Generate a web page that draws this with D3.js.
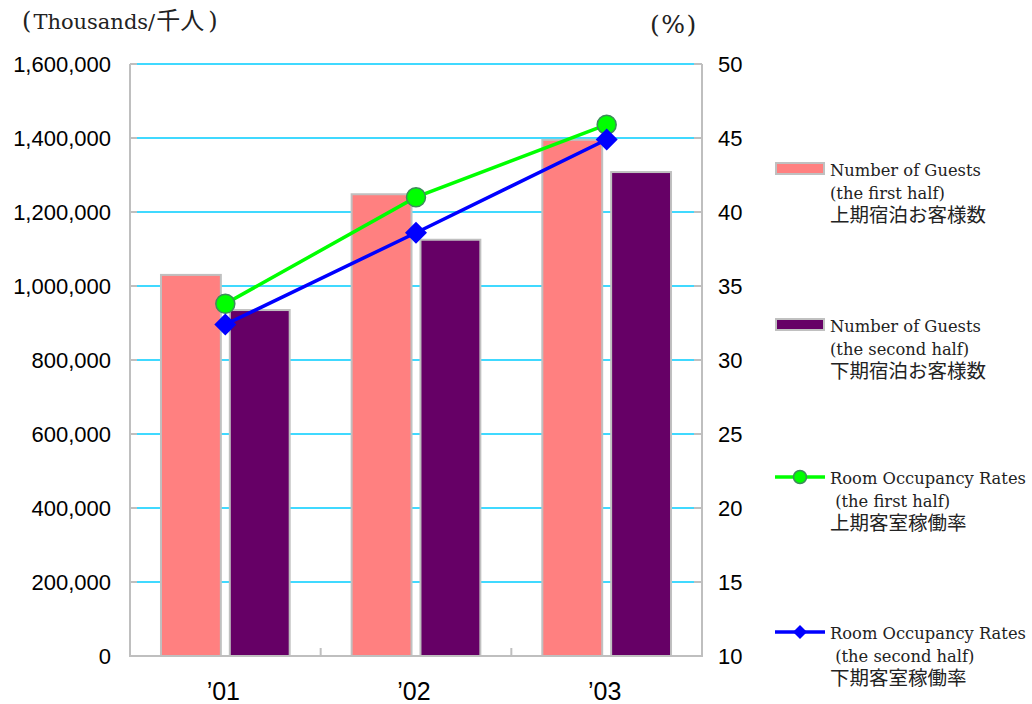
<!DOCTYPE html>
<html>
<head>
<meta charset="utf-8">
<script src="https://cdn.jsdelivr.net/npm/d3@7/dist/d3.min.js"></script>
<style>
  html, body { margin: 0; padding: 0; background: #fff; }
  svg { display: block; }
</style>
</head>
<body>
<svg id="chart" width="1032" height="704"></svg>
<script>
// ---- data ----
const categories = ["’01", "’02", "’03"];
const guestsFirstHalf = [1030000, 1248000, 1395000];
const guestsSecondHalf = [935000, 1125000, 1308000];
const occupancyFirstHalf = [33.8, 41.0, 45.9];
const occupancySecondHalf = [32.4, 38.6, 44.9];
const leftTicks = [0, 200000, 400000, 600000, 800000, 1000000, 1200000, 1400000, 1600000];
const rightTicks = [10, 15, 20, 25, 30, 35, 40, 45, 50];
const leftUnitParts = ["(", "Thousands/", "千人", ")"];
const rightUnit = "(%)";
const legendLabels = [
  ["Number of Guests", "(the first half)", "上期宿泊お客様数"],
  ["Number of Guests", "(the second half)", "下期宿泊お客様数"],
  ["Room Occupancy Rates", " (the first half)", "上期客室稼働率"],
  ["Room Occupancy Rates", " (the second half)", "下期客室稼働率"]
];

// ---- layout ----
const svg = d3.select("#chart");
const plot = { left: 130, right: 702, top: 64, bottom: 656 };
const sansFont = "'Liberation Sans', Arial, sans-serif";
const serifFont = "'DejaVu Serif', 'Liberation Serif', 'Noto Sans CJK JP', serif";
const cjkFont = "'Noto Sans CJK JP', sans-serif";

const x0 = d3.scaleBand().domain(categories).range([plot.left, plot.right]);
const x1 = d3.scaleBand().domain([0, 1]).range([0, x0.bandwidth()])
  .paddingInner(0.13).paddingOuter(0.45);
const yL = d3.scaleLinear().domain([0, 1600000]).range([plot.bottom, plot.top]);
const yR = d3.scaleLinear().domain([10, 50]).range([plot.bottom, plot.top]);

// gridlines
svg.append("g").selectAll("line").data(leftTicks).join("line")
  .attr("x1", plot.left).attr("x2", plot.right)
  .attr("y1", d => yL(d)).attr("y2", d => yL(d))
  .attr("stroke", "#00CCFF").attr("stroke-width", 1.6);

// bars
const barColors = ["#FF8080", "#660066"];
const barSeries = [guestsFirstHalf, guestsSecondHalf];
barSeries.forEach((vals, si) => {
  svg.append("g").selectAll("rect").data(vals).join("rect")
    .attr("x", (d, i) => x0(categories[i]) + x1(si))
    .attr("width", x1.bandwidth())
    .attr("y", d => yL(d))
    .attr("height", d => plot.bottom - yL(d))
    .attr("fill", barColors[si])
    .attr("stroke", "#C0C0C0").attr("stroke-width", 2);
});

// axes lines (gray)
const axisColor = "#BFBFBF";
const gAxis = svg.append("g");
gAxis.append("line").attr("x1", plot.left).attr("x2", plot.left)
  .attr("y1", plot.top).attr("y2", plot.bottom).attr("stroke", axisColor).attr("stroke-width", 2);
gAxis.append("line").attr("x1", plot.right).attr("x2", plot.right)
  .attr("y1", plot.top).attr("y2", plot.bottom).attr("stroke", axisColor).attr("stroke-width", 2);
gAxis.append("line").attr("x1", plot.left - 1).attr("x2", plot.right + 1)
  .attr("y1", plot.bottom).attr("y2", plot.bottom).attr("stroke", axisColor).attr("stroke-width", 2);
gAxis.selectAll(".lt").data(leftTicks).join("line")
  .attr("x1", plot.left).attr("x2", plot.left + 7)
  .attr("y1", d => yL(d)).attr("y2", d => yL(d))
  .attr("stroke", axisColor).attr("stroke-width", 2);
gAxis.selectAll(".rt").data(rightTicks).join("line")
  .attr("x1", plot.right - 8).attr("x2", plot.right)
  .attr("y1", d => yR(d)).attr("y2", d => yR(d))
  .attr("stroke", axisColor).attr("stroke-width", 2);
gAxis.selectAll(".xt").data(categories.slice(1)).join("line")
  .attr("x1", d => x0(d)).attr("x2", d => x0(d))
  .attr("y1", plot.bottom - 8).attr("y2", plot.bottom)
  .attr("stroke", axisColor).attr("stroke-width", 2);

// tick labels
const fmt = d3.format(",");
svg.append("g").selectAll("text").data(leftTicks).join("text")
  .attr("x", 111).attr("y", d => yL(d) + 7.5)
  .attr("text-anchor", "end")
  .attr("font-family", sansFont).attr("font-size", 22).attr("fill", "#000")
  .text(d => fmt(d));
svg.append("g").selectAll("text").data(rightTicks).join("text")
  .attr("x", 718).attr("y", d => yR(d) + 7.5)
  .attr("text-anchor", "start")
  .attr("font-family", sansFont).attr("font-size", 22).attr("fill", "#000")
  .text(d => d);
svg.append("g").selectAll("text").data(categories).join("text")
  .attr("x", d => x0(d) + x0.bandwidth() / 2 - 2).attr("y", 700)
  .attr("text-anchor", "middle")
  .attr("font-family", sansFont).attr("font-size", 25).attr("fill", "#000")
  .text(d => d);

function fitWidth(sel, target) {
  const w = sel.node().getComputedTextLength();
  const fs = parseFloat(sel.attr("font-size"));
  if (w > 0) sel.attr("font-size", fs * target / w);
}

// unit labels
const lu = svg.append("text").attr("x", 22).attr("y", 29)
  .attr("font-family", serifFont).attr("fill", "#222");
const luSizes = [24, 21, 24, 24];
const luGaps = [7, 2, 1, 4];
leftUnitParts.forEach((p, i) => {
  lu.append("tspan")
    .attr("dx", i === 0 ? 0 : luGaps[i])
    .attr("font-family", i === 2 ? cjkFont : serifFont)
    .attr("font-size", luSizes[i]).text(p);
});
svg.append("text").attr("x", 650).attr("y", 33)
  .attr("font-family", serifFont).attr("font-size", 25).attr("fill", "#222")
  .attr("letter-spacing", 1.5)
  .text(rightUnit);

// lines
const cx = i => x0(categories[i]) + x0.bandwidth() / 2;
const lineGen = d3.line().x((d, i) => cx(i)).y(d => yR(d));
svg.append("path").datum(occupancyFirstHalf)
  .attr("d", lineGen).attr("fill", "none")
  .attr("stroke", "#00FF00").attr("stroke-width", 3.5);
svg.append("path").datum(occupancySecondHalf)
  .attr("d", lineGen).attr("fill", "none")
  .attr("stroke", "#0000FF").attr("stroke-width", 3.5);

// markers
svg.append("g").selectAll("circle").data(occupancyFirstHalf).join("circle")
  .attr("cx", (d, i) => cx(i)).attr("cy", d => yR(d)).attr("r", 9.5)
  .attr("fill", "#00FF00").attr("stroke", "#3C8C5A").attr("stroke-width", 1.5);
const diamond = s => `M0,${-s}L${s},0L0,${s}L${-s},0Z`;
svg.append("g").selectAll("path").data(occupancySecondHalf).join("path")
  .attr("transform", (d, i) => `translate(${cx(i)},${yR(d)})`)
  .attr("d", diamond(11)).attr("fill", "#0000FF");

// legend
const legendY = [169, 325, 477, 632];
const lg = svg.append("g");
const probe = lg.append("text").attr("font-family", serifFont).attr("font-size", 17).text(legendLabels[0][0]);
fitWidth(probe, 151);
const latinSize = parseFloat(probe.attr("font-size"));
probe.remove();

legendLabels.forEach((lines, i) => {
  const y = legendY[i];
  if (i < 2) {
    lg.append("rect").attr("x", 776).attr("y", y - 6).attr("width", 48).attr("height", 11)
      .attr("fill", barColors[i]).attr("stroke", "#C0C0C0").attr("stroke-width", 2);
  } else {
    lg.append("line").attr("x1", 775).attr("x2", 825).attr("y1", y).attr("y2", y)
      .attr("stroke", i === 2 ? "#00FF00" : "#0000FF").attr("stroke-width", 3.5);
    if (i === 2) {
      lg.append("circle").attr("cx", 800).attr("cy", y).attr("r", 6.5)
        .attr("fill", "#00FF00").attr("stroke", "#3C8C5A").attr("stroke-width", 1.5);
    } else {
      lg.append("path").attr("transform", `translate(800,${y})`).attr("d", diamond(7)).attr("fill", "#0000FF");
    }
  }
  lines.forEach((ln, j) => {
    const isCjk = j === 2;
    lg.append("text").attr("x", 830).attr("y", y + 7 + j * 22.5 + (isCjk ? 1 : 0))
      .attr("font-family", serifFont)
      .attr("font-size", isCjk ? 19.5 : latinSize)
      .attr("fill", "#222").attr("xml:space", "preserve").style("white-space", "pre")
      .text(ln);
  });
});
</script>
</body>
</html>
